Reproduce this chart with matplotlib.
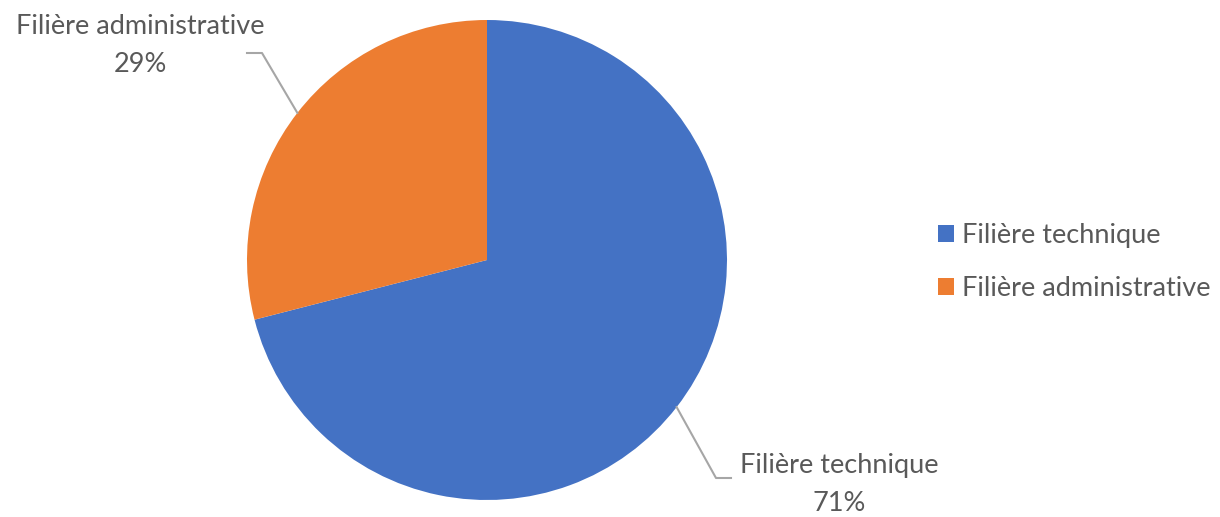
#%% Dependencies
import numpy as np
import matplotlib.pyplot as plt
from matplotlib.patches import Patch

#%% Data
categories = ["Filière technique", "Filière administrative"]
values = [71, 29]
colors = ["#4472C4", "#ED7D31"]

#%% Layout (pixels)
W, H = 1220, 517
cx, cy, r = 487, 260, 240
text_color = "#595959"
fsize = 19.5
plt.rcParams["font.family"] = ["Lato", "DejaVu Sans"]


def to_data(px, py):
    return (px - cx) / r, (cy - py) / r


#%% Plot
fig = plt.figure(figsize=(W / 100, H / 100), dpi=100)
ax = fig.add_axes([(cx - r) / W, (H - cy - r) / H, 2 * r / W, 2 * r / H])
wedges, _ = ax.pie(values, colors=colors, startangle=90, counterclock=False,
                   radius=1, wedgeprops=dict(linewidth=0))
ax.set_xlim(-1, 1)
ax.set_ylim(-1, 1)
ax.axis("off")

total = sum(values)
# label positions: (text center x, first line y, elbow x, elbow end x, elbow y)
label_pos = [
    (839, 466, 716, 731, 478),
    (140, 26, 262, 247, 53),
]
for w, cat, val, (tx, ty, ex, ex2, ey) in zip(wedges, categories, values, label_pos):
    mid = np.deg2rad((w.theta1 + w.theta2) / 2)
    edge = (np.cos(mid), np.sin(mid))
    p1 = to_data(ex, ey)
    p2 = to_data(ex2, ey)
    ax.plot([edge[0], p1[0], p2[0]], [edge[1], p1[1], p2[1]],
            color="#A6A6A6", lw=1.5, clip_on=False)
    x0, y0 = to_data(tx, ty)
    ax.text(x0, y0, cat, ha="center", va="center", fontsize=fsize,
            color=text_color, clip_on=False)
    x1, y1 = to_data(tx, ty + 38)
    ax.text(x1, y1, f"{round(100 * val / total)}%", ha="center", va="center",
            fontsize=fsize, color=text_color, clip_on=False)

handles = [Patch(facecolor=c, edgecolor="none") for c in colors]
fig.legend(handles, categories, loc="center left",
           bbox_to_anchor=(916 / W, 1 - 262 / H), frameon=False,
           fontsize=fsize, labelcolor=text_color, handlelength=0.6,
           handleheight=0.6, handletextpad=0.3, labelspacing=1.05,
           borderpad=0.3)

fig.savefig("out.png", dpi=100)
